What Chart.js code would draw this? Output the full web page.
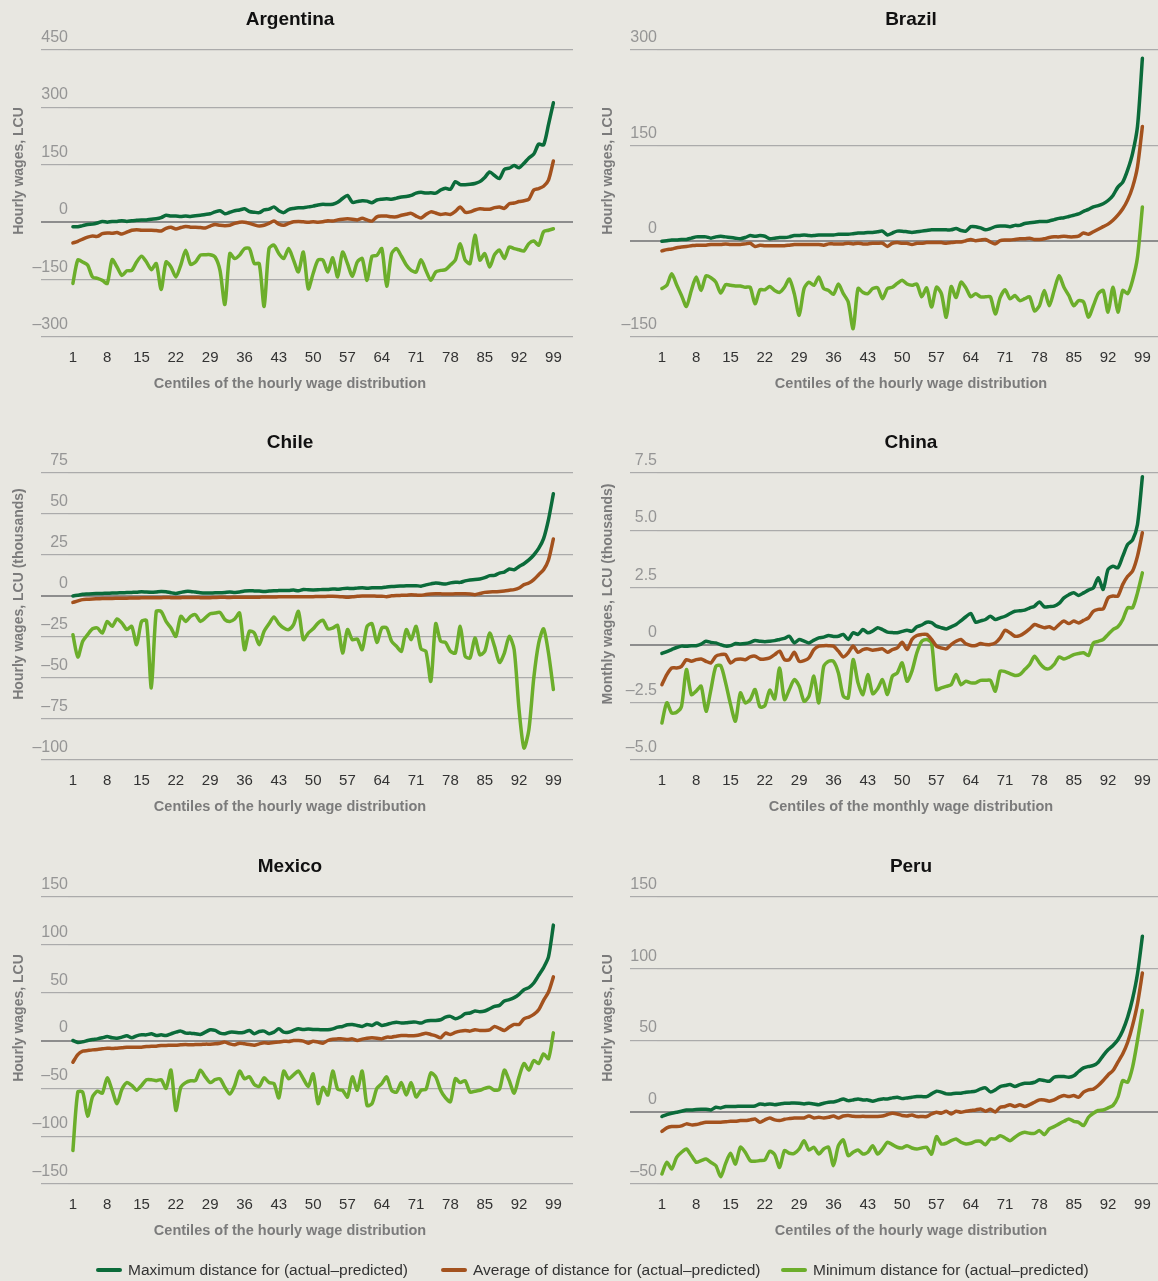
<!DOCTYPE html>
<html>
<head>
<meta charset="utf-8">
<script src="https://cdn.jsdelivr.net/npm/chart.js@4.4.1/dist/chart.umd.min.js"></script>
<style>
  html, body { margin: 0; padding: 0; background: #e8e7e1; overflow: hidden; }
  #page { position: relative; width: 1158px; height: 1281px; overflow: hidden; background: #e8e7e1; }
  #page canvas { position: absolute; }
  .legend-item { position: absolute; top: 1260px; font: 15.5px "Liberation Sans", Arial, sans-serif; color: #333; white-space: nowrap; line-height: 20px; }
  .legend-item i { display: inline-block; width: 26px; height: 4.5px; border-radius: 2px; margin-right: 6px; vertical-align: middle; position: relative; top: -1px; }
</style>
</head>
<body>
<div id="page">
  <canvas id="argentina" width="580" height="420" style="left:0;top:0"></canvas>
  <canvas id="brazil" width="644" height="420" style="left:589px;top:0"></canvas>
  <canvas id="chile" width="580" height="420" style="left:0;top:423px"></canvas>
  <canvas id="china" width="644" height="420" style="left:589px;top:423px"></canvas>
  <canvas id="mexico" width="580" height="420" style="left:0;top:847px"></canvas>
  <canvas id="peru" width="644" height="420" style="left:589px;top:847px"></canvas>
</div>
<script>
'use strict';

// Centiles and axis ticks
const centiles = [];
for (let c = 1; c <= 99; c++) centiles.push(c);
const xTicks = [1, 8, 15, 22, 29, 36, 43, 50, 57, 64, 71, 78, 85, 92, 99];

const seriesNames = ['Maximum distance for (actual\u2013predicted)', 'Average of distance for (actual\u2013predicted)', 'Minimum distance for (actual\u2013predicted)'];
const seriesColors = ['#0b6b3a', '#a3521e', '#6cae2b'];

// Argentina (hourly wages, LCU)
const argentinaYTicks = [-300, -150, 0, 150, 300, 450];
const argentinaMax = [-12, -12, -9, -6, -5, -2, 2, 0, 2, 2,
  4, 2, 4, 5, 6, 6, 8, 9, 12, 18,
  16, 16, 15, 16, 15, 17, 18, 20, 22, 27,
  30, 22, 26, 30, 32, 35, 28, 26, 25, 32,
  34, 40, 30, 25, 33, 36, 38, 38, 40, 42,
  45, 47, 46, 47, 52, 62, 70, 52, 54, 56,
  55, 51, 58, 60, 61, 60, 63, 66, 67, 70,
  76, 78, 76, 77, 76, 84, 89, 86, 106, 98,
  98, 99, 101, 106, 117, 131, 122, 114, 138, 141,
  148, 142, 154, 168, 178, 204, 202, 255, 312];
const argentinaAvg = [-54, -50, -44, -39, -36, -37, -30, -28, -29, -27,
  -31, -26, -21, -20, -21, -21, -21, -22, -23, -16,
  -13, -18, -14, -11, -13, -13, -14, -15, -10, -6,
  -8, -9, -8, -3, 0, 0, -3, -7, -10, -8,
  -3, 3, -5, -8, -3, 1, 2, 1, 0, 1,
  0, 1, 4, 3, 6, 8, 9, 8, 6, 10,
  6, 3, 14, 16, 16, 14, 14, 18, 21, 23,
  16, 11, 20, 27, 24, 20, 22, 20, 28, 40,
  26, 27, 32, 35, 34, 34, 38, 40, 36, 48,
  50, 54, 56, 60, 84, 88, 94, 110, 160];
const argentinaMin = [-160, -99, -104, -112, -143, -147, -152, -160, -98, -117,
  -139, -127, -126, -104, -89, -104, -124, -108, -176, -104,
  -117, -143, -112, -73, -110, -104, -86, -85, -85, -91,
  -126, -215, -82, -95, -86, -69, -69, -108, -108, -220,
  -69, -60, -82, -95, -69, -99, -130, -78, -174, -134,
  -99, -99, -130, -93, -143, -78, -108, -141, -104, -95,
  -152, -89, -87, -69, -167, -82, -69, -89, -112, -126,
  -130, -98, -126, -152, -130, -126, -124, -112, -99, -56,
  -99, -108, -34, -99, -82, -117, -85, -73, -95, -65,
  -69, -72, -75, -56, -49, -60, -25, -21, -17];

// Brazil (hourly wages, LCU)
const brazilYTicks = [-150, 0, 150, 300];
const brazilMax = [0, 1, 2, 2, 3, 3, 5, 7, 7, 7,
  5, 7, 8, 7, 6, 5, 4, 6, 9, 8,
  9, 8, 4, 5, 6, 6, 7, 9, 9, 10,
  9, 9, 10, 10, 10, 10, 11, 11, 11, 12,
  13, 13, 14, 14, 15, 16, 10, 13, 16, 16,
  15, 14, 15, 16, 17, 18, 18, 18, 18, 18,
  20, 17, 16, 23, 23, 21, 18, 20, 23, 24,
  24, 23, 25, 25, 28, 29, 30, 31, 31, 32,
  34, 36, 37, 39, 41, 43, 47, 50, 54, 56,
  59, 64, 72, 85, 93, 112, 138, 180, 287];
const brazilAvg = [-15, -13, -12, -10, -9, -8, -7, -6, -6, -6,
  -5, -5, -5, -4, -5, -5, -5, -4, -3, -8,
  -6, -7, -7, -7, -7, -7, -6, -5, -5, -5,
  -5, -5, -5, -6, -4, -4, -4, -4, -3, -4,
  -3, -4, -4, -3, -3, -3, -8, -3, -2, -3,
  -3, -5, -3, -3, -2, -2, -2, -2, -3, -2,
  -1, -1, 1, 3, 1, 2, 3, -1, -4, 1,
  2, 2, 3, 4, 4, 5, 3, 3, 4, 6,
  7, 7, 8, 7, 7, 8, 13, 11, 15, 19,
  23, 27, 33, 41, 51, 65, 85, 117, 180];
const brazilMin = [-74, -69, -51, -68, -85, -102, -77, -56, -77, -54,
  -57, -64, -81, -68, -69, -70, -70, -72, -72, -98,
  -76, -76, -71, -77, -80, -72, -59, -82, -116, -74,
  -64, -69, -56, -74, -77, -83, -67, -82, -95, -137,
  -74, -80, -82, -74, -73, -90, -74, -72, -66, -61,
  -67, -69, -67, -87, -73, -103, -72, -82, -119, -71,
  -88, -64, -73, -87, -82, -87, -87, -87, -114, -88,
  -76, -90, -85, -93, -90, -87, -109, -101, -77, -101,
  -77, -54, -72, -85, -101, -93, -95, -119, -101, -82,
  -77, -111, -72, -111, -77, -82, -61, -25, 54];

// Chile (hourly wages, LCU thousands)
const chileYTicks = [-100, -75, -50, -25, 0, 25, 50, 75];
const chileMax = [0, 0.5, 1, 1.2, 1.4, 1.5, 1.6, 1.7, 1.8, 1.9,
  2, 2.1, 2.2, 2.3, 2.6, 2.4, 2.3, 2.5, 2.8, 2.6,
  2, 1.6, 2.2, 2.8, 2.8, 2.4, 2, 1.8, 1.8, 2,
  2, 2.2, 2.5, 2.2, 2.4, 3, 3.2, 3.1, 3, 2.8,
  3, 3.2, 3.3, 3.4, 3.3, 3.6, 3.2, 4, 3.8, 3.7,
  3.8, 4, 4, 4.3, 4.1, 4.5, 4.7, 4.5, 4.8, 5,
  4.8, 5, 5.1, 5, 5.5, 5.8, 6, 6.1, 6.2, 6.3,
  6.3, 6, 6.8, 7.4, 8, 7.6, 7.3, 8, 8.4, 8.3,
  9.2, 9.8, 10, 10.4, 11.2, 12.4, 12.6, 14, 14.6, 16.5,
  16, 18, 19.7, 22, 25, 29, 35, 46.6, 62.4];
const chileAvg = [-3.9, -3, -2.2, -2, -1.8, -1.7, -1.6, -1.5, -1.5, -1.4,
  -1.3, -1.3, -1.2, -1.2, -1.1, -1.1, -1.1, -1, -1, -0.9,
  -1, -1.1, -1, -0.9, -0.9, -0.9, -1, -1.1, -1, -0.9,
  -0.8, -0.8, -0.9, -0.8, -0.7, -0.7, -0.8, -0.7, -0.7, -0.6,
  -0.6, -0.6, -0.5, -0.5, -0.4, -0.4, -0.5, -0.4, -0.4, -0.4,
  -0.3, -0.3, -0.2, -0.2, -0.3, -0.5, -0.8, -0.4, -0.2, 0,
  0, 0, -0.1, -0.1, -0.4, 0.1, 0.3, 0.4, 0.5, 0.8,
  0.6, 0.4, 0.9, 1.2, 1.4, 1.3, 1.2, 1.2, 1.3, 1.3,
  1.4, 1.2, 0.8, 1.5, 2.2, 2.5, 2.6, 2.8, 3.1, 3.5,
  3.9, 4.9, 6.9, 7.9, 10, 13, 16, 22, 34.8];
const chileMin = [-23.6, -37.2, -27.6, -23.6, -20, -19.5, -22.6, -15.5, -18.5, -14,
  -16.5, -20.5, -18.5, -29.7, -15.5, -15, -56, -9.4, -9.4, -15.5,
  -19.5, -24.6, -12.4, -15.5, -12.4, -11.4, -15.5, -13.4, -10.8, -10.4,
  -10, -14.4, -15.5, -14, -10.4, -32.7, -21.5, -22.6, -29.7, -21.5,
  -16.9, -12.8, -16.9, -19.5, -20.5, -17.5, -9.4, -26.6, -22.6, -20,
  -16.5, -14.8, -20, -19.5, -18, -34.8, -20.5, -26.6, -26.2, -32.7,
  -18.5, -16.9, -28.3, -19.5, -19.5, -27.6, -30.7, -33.7, -20.5, -26.6,
  -18.5, -32.3, -33.7, -52, -16.9, -27.6, -28.3, -33.7, -34.8, -18.5,
  -36.8, -37.8, -25.6, -35.8, -33.7, -22.6, -30.7, -40.5, -34.8, -24.6,
  -32.7, -69.3, -92.7, -81.5, -50, -28.7, -20, -34.8, -57];

// China (monthly wages, LCU thousands)
const chinaYTicks = [-5, -2.5, 0, 2.5, 5, 7.5];
const chinaMax = [-0.36, -0.28, -0.19, -0.1, -0.04, -0.05, -0.02, -0.02, 0.05, 0.17,
  0.12, 0.1, 0.02, -0.04, -0.02, 0.07, 0.05, 0.07, 0.12, 0.2,
  0.17, 0.15, 0.17, 0.2, 0.25, 0.3, 0.39, 0.1, 0.25, 0.18,
  0.1, 0.22, 0.32, 0.35, 0.42, 0.38, 0.39, 0.47, 0.25, 0.54,
  0.47, 0.68, 0.54, 0.62, 0.76, 0.68, 0.57, 0.55, 0.54, 0.6,
  0.65, 0.61, 0.8, 0.88, 1.0, 0.98, 0.83, 0.76, 0.71, 0.8,
  0.9, 1.07, 1.24, 1.38, 1.0, 1.06, 1.12, 1.26, 1.12, 1.19,
  1.26, 1.38, 1.48, 1.5, 1.53, 1.62, 1.7, 1.88, 1.67, 1.68,
  1.7, 1.82, 2.06, 2.2, 2.28, 2.17, 2.28, 2.4, 2.5, 2.94,
  2.43, 3.3, 3.44, 3.37, 3.88, 4.39, 4.58, 5.26, 7.34];
const chinaAvg = [-1.72, -1.28, -0.99, -0.99, -0.92, -0.63, -0.7, -0.63, -0.6, -0.7,
  -0.77, -0.48, -0.41, -0.41, -0.77, -0.63, -0.6, -0.63, -0.51, -0.48,
  -0.6, -0.6, -0.55, -0.41, -0.26, -0.63, -0.63, -0.31, -0.7, -0.67,
  -0.55, -0.19, -0.04, -0.02, -0.02, -0.04, -0.26, -0.51, -0.33, -0.04,
  -0.31, -0.19, -0.16, -0.22, -0.19, -0.16, -0.31, -0.19, -0.12, 0.13,
  -0.19, 0.25, 0.42, 0.47, 0.47, 0.25, -0.04, -0.12, -0.16, 0.03,
  0.17, 0.25, 0.06, -0.01, -0.01, 0.07, 0.03, 0.03, 0.1, 0.32,
  0.65, 0.54, 0.39, 0.42, 0.54, 0.71, 0.9, 0.83, 0.76, 0.8,
  0.71, 0.9, 1.05, 0.94, 1.05, 0.97, 1.08, 1.19, 1.48, 1.56,
  1.58, 2.06, 2.14, 2.14, 2.65, 3.0, 3.23, 3.88, 4.9];
const chinaMin = [-3.39, -2.51, -2.95, -2.92, -2.66, -1.06, -2.15, -2.0, -1.79, -2.88,
  -1.93, -0.92, -0.89, -1.64, -2.58, -3.31, -2.08, -2.51, -2.37, -1.93,
  -2.69, -2.63, -1.96, -2.34, -0.99, -2.37, -1.93, -1.5, -1.79, -2.44,
  -2.22, -1.35, -2.51, -0.92, -0.7, -0.7, -1.21, -2.22, -2.3, -0.63,
  -1.64, -2.15, -1.28, -2.11, -1.9, -1.5, -2.15, -1.35, -1.21, -0.77,
  -1.57, -1.13, -0.33, 0.17, 0.25, 0.1, -1.93, -1.86, -1.79, -1.72,
  -1.28, -1.72, -1.57, -1.64, -1.64, -1.53, -1.53, -1.53, -2.0, -1.13,
  -1.15, -1.24, -1.32, -1.28, -1.06, -0.84, -0.48, -0.77, -0.99, -1.02,
  -0.84, -0.51, -0.6, -0.52, -0.41, -0.36, -0.33, -0.45, 0.1, 0.17,
  0.25, 0.47, 0.68, 0.8, 1.12, 1.63, 1.63, 2.28, 3.15];

// Mexico (hourly wages, LCU)
const mexicoYTicks = [-150, -100, -50, 0, 50, 100, 150];
const mexicoMax = [0, -2, -1.4, 0, 1, 1.7, 2.8, 4.2, 2.8, 2.4,
  3.5, 4.9, 2.8, 4.9, 5.9, 5.9, 7, 5.2, 5.9, 5.2,
  7, 8.7, 9.8, 7.7, 7.7, 7, 6.3, 8.7, 11.2, 10.5,
  7.7, 7, 8.7, 8.7, 8, 8.7, 10.5, 7, 9.4, 9.8,
  7, 8.7, 12.2, 8.7, 8.7, 10.5, 12.2, 11.5, 11.9, 11.5,
  11.5, 11.2, 11.2, 12.2, 14, 14.7, 16.4, 16.8, 15.7, 14.7,
  16.8, 15.7, 18.2, 15.7, 16.8, 18.2, 19.2, 18.2, 18.5, 19.2,
  19.2, 18.2, 20.3, 21, 21, 21.7, 24.5, 25.2, 22.7, 24.5,
  28, 28.7, 30.8, 30.1, 30.8, 33.2, 35.7, 36.7, 41.3, 42.7,
  44.8, 48.3, 53.1, 55.3, 60.1, 68.2, 76.2, 87.4, 120.6];
const mexicoAvg = [-22.7, -14.7, -11.2, -10.5, -9.8, -9.4, -8.7, -8, -8.4, -8,
  -7.7, -7, -7, -7, -7, -6.3, -5.9, -5.9, -5.2, -5.2,
  -4.9, -4.9, -4.5, -4.2, -4.5, -4.2, -4.2, -3.8, -3.8, -3.5,
  -2.8, -1.7, -3.5, -4.5, -2.8, -3.5, -4.2, -4.9, -3.5, -2.4,
  -2.8, -2.1, -1.7, -0.7, -1, 0, 0, -0.7, -2.8, -0.7,
  -1.7, -2.8, 0, 1.4, 1.7, 1.7, 1, 1.7, 0, 1.4,
  2.4, 2.8, 2.4, 1.7, 3.5, 3.5, 4.5, 5.2, 5.2, 4.9,
  5.2, 6.3, 7.7, 6.3, 4.9, 2.8, 7.7, 6.3, 8.4, 9.8,
  10.5, 9.8, 11.2, 10.5, 10.5, 11.2, 14.7, 12.6, 10.5, 14,
  16.8, 16.8, 22.7, 24.5, 27.3, 32.2, 42, 50.7, 66.5];
const mexicoMin = [-115, -54, -54, -79, -59, -53, -55, -39, -52, -66,
  -51, -44, -47, -52, -47, -41, -41, -42, -41, -50,
  -31, -73, -49, -44, -42, -42, -31, -38, -44, -41,
  -40, -49, -56, -47, -32, -40, -38, -46, -48, -39,
  -44, -45, -60, -32, -40, -36, -32, -40, -48, -35,
  -66, -49, -57, -32, -51, -52, -59, -38, -52, -32,
  -68, -66, -50, -45, -38, -52, -54, -44, -57, -44,
  -59, -52, -51, -34, -38, -52, -60, -64, -40, -44,
  -42, -54, -53, -52, -50, -49, -52, -51, -31, -42,
  -55, -38, -24, -31, -21, -24, -14, -19, 8];

// Peru (hourly wages, LCU)
const peruYTicks = [-50, 0, 50, 100, 150];
const peruMax = [-3, -1.6, -0.7, 0, 0.7, 1.6, 1.6, 1.9, 2.1, 2.1,
  1.6, 3.5, 3, 4, 4, 4, 4.2, 4.2, 4.2, 4.4,
  5.8, 5.3, 5.8, 5.3, 5.8, 6.3, 6.3, 6.5, 6.3, 5.8,
  6.3, 5.8, 5.3, 6.3, 7, 7.2, 8.1, 9.3, 8.1, 8.6,
  9.3, 8.6, 8.6, 7.7, 8.6, 9.3, 9.3, 10, 10.5, 9.5,
  10, 10.5, 10.9, 10.9, 10.9, 12.8, 14.7, 14, 12.8, 12.8,
  13.3, 13.3, 14, 14.2, 14.7, 16.3, 17, 14.2, 15.6, 17.9,
  18.6, 19.3, 17.9, 19.3, 20.2, 20.2, 20.9, 22.6, 22.1, 21.6,
  24.4, 24.9, 24.9, 24.4, 25.4, 28.4, 30.9, 31.9, 32.6, 34.9,
  39.5, 43.5, 46.5, 50.5, 57, 66.3, 79.1, 96.5, 122.6];
const peruAvg = [-13.3, -10.9, -10, -10, -9.5, -8.1, -8.8, -8.6, -7.7, -7,
  -7, -7, -7, -6.7, -6.3, -6.3, -5.8, -5.8, -5.3, -4.7,
  -7, -5.3, -4, -5.3, -5.8, -4.9, -4.4, -4, -4, -4,
  -2.6, -4, -3.5, -4, -3.5, -2.6, -4, -2.6, -2.3, -2.8,
  -3, -2.8, -3, -3, -3, -2.6, -1.6, -0.7, -1.2, -2.3,
  -2.6, -1.9, -3, -3, -3, -1.2, 0, -0.7, 0.7, -1.2,
  0.7, 0, 0.7, 1.2, 1.6, 2.3, 0.7, 2.1, 0.2, 3.5,
  4, 5.3, 4, 5.3, 4, 5.3, 7, 8.6, 8.6, 7.7,
  8.6, 10.5, 11.6, 10.9, 11.6, 10.5, 14, 15.6, 16.1, 18.6,
  22.1, 26, 29.1, 34.9, 40.7, 48.8, 60.5, 75.6, 97];
const peruMin = [-43, -34.9, -39.5, -31.4, -27.9, -25.6, -30.2, -34.9, -33.7, -32.6,
  -34.9, -37.2, -44.9, -35.6, -28.6, -36.1, -24.4, -27.9, -33.7, -34.2,
  -33.7, -33.3, -27.2, -29.5, -38.4, -26.7, -28.6, -28.6, -25.6, -19.8,
  -26.3, -24.4, -29.1, -25.6, -24.4, -37.2, -23.3, -19.3, -30.2, -27.9,
  -26.3, -29.1, -27.9, -23.3, -29.1, -25.6, -20.9, -22.6, -24.4, -24.9,
  -23.3, -24.9, -25.6, -24.9, -24.4, -29.1, -17, -22.1, -21.6, -19.8,
  -18.6, -20.9, -22.1, -21.6, -20.2, -20.2, -22.6, -18.6, -18.6, -16.3,
  -17.9, -19.8, -17.4, -15.1, -14, -14.7, -14.7, -12.8, -15.6, -11.6,
  -10, -8.1, -6.3, -4.7, -6.3, -7, -9.3, -3.5, -0.7, 1.2,
  1.6, 3, 4.7, 10.5, 22.1, 20.9, 31.4, 50, 70.9];

Chart.defaults.font.family = '"Liberation Sans", Arial, sans-serif';

function formatTick(v, decimals) {
    if (v === 0) return '0';
    const s = Math.abs(v).toFixed(decimals);
    return (v < 0 ? '\u2013' : '') + s;
}

// Draws the rotated y-axis title a bit above the axis centre, as in the original.
const yTitlePlugin = {
    id: 'yTitle',
    afterDraw(chart, args, opts) {
        const ctx = chart.ctx;
        ctx.save();
        ctx.translate(19.5, 171);
        ctx.rotate(-Math.PI / 2);
        ctx.font = 'bold 14px "Liberation Sans", Arial, sans-serif';
        ctx.fillStyle = '#7b7b7b';
        ctx.textAlign = 'center';
        ctx.textBaseline = 'middle';
        ctx.fillText(opts.text, 0, 0);
        ctx.restore();
    }
};

const PX_PER_CENTILE = 505 / 103;

function makePanel(id, country, yTitle, xTitle, yTicks, decimals, maxData, avgData, minData) {
    const canvas = document.getElementById(id);
    // left column keeps its grid inside the canvas; right column runs off the page edge
    const rightColumn = canvas.width > 600;
    const padL = rightColumn ? 0 : 7;
    const padR = rightColumn ? 0 : 7;
    const xMax = (canvas.width - padR - 68) / PX_PER_CENTILE;
    const seriesData = [maxData, avgData, minData];
    new Chart(canvas, {
        type: 'line',
        data: {
            labels: centiles,
            datasets: seriesData.map((d, i) => ({
                label: seriesNames[i],
                data: d,
                borderColor: seriesColors[i],
                borderWidth: 3.5,
                pointRadius: 0,
                tension: 0.25,
                borderJoinStyle: 'round',
                borderCapStyle: 'round',
                fill: false,
            })),
        },
        options: {
            responsive: false,
            devicePixelRatio: 1,
            animation: false,
            layout: { padding: { left: padL, right: padR, top: 0, bottom: 0 } },
            plugins: {
                legend: { display: false },
                tooltip: { enabled: false },
                title: {
                    display: true,
                    text: country,
                    color: '#111',
                    font: { size: 19, weight: 'bold' },
                    padding: { top: 8.6, bottom: 18.6 },
                },
                subtitle: {
                    display: true,
                    position: 'bottom',
                    text: xTitle,
                    color: '#7b7b7b',
                    font: { size: 14.5, weight: 'bold' },
                    padding: { top: 8.6, bottom: 27 },
                },
                yTitle: { text: yTitle },
            },
            scales: {
                x: {
                    type: 'linear',
                    min: 0,
                    max: xMax,
                    afterBuildTicks: s => { s.ticks = xTicks.map(v => ({ value: v })); },
                    afterFit: s => { s.height = 30; },
                    grid: { display: false, drawTicks: false },
                    border: { display: false },
                    ticks: {
                        autoSkip: false,
                        maxRotation: 0,
                        padding: 12,
                        color: '#333',
                        font: { size: 15 },
                        callback: v => String(v),
                    },
                },
                y: {
                    min: yTicks[0],
                    max: yTicks[yTicks.length - 1],
                    afterBuildTicks: s => { s.ticks = yTicks.map(v => ({ value: v })); },
                    afterFit: s => { s.width = 68 - padL; },
                    grid: {
                        color: c => (c.tick && c.tick.value === 0) ? '#8d8d8d' : '#ababab',
                        lineWidth: c => (c.tick && c.tick.value === 0) ? 2 : 1.2,
                        drawTicks: true,
                        tickLength: 27,
                    },
                    border: { display: false },
                    ticks: {
                        padding: -27,
                        labelOffset: -12.5,
                        color: '#959595',
                        font: { size: 16 },
                        callback: v => formatTick(v, decimals),
                    },
                },
            },
        },
        plugins: [yTitlePlugin],
    });
}

makePanel('argentina', 'Argentina', 'Hourly wages, LCU', 'Centiles of the hourly wage distribution', argentinaYTicks, 0, argentinaMax, argentinaAvg, argentinaMin);
makePanel('brazil', 'Brazil', 'Hourly wages, LCU', 'Centiles of the hourly wage distribution', brazilYTicks, 0, brazilMax, brazilAvg, brazilMin);
makePanel('chile', 'Chile', 'Hourly wages, LCU (thousands)', 'Centiles of the hourly wage distribution', chileYTicks, 0, chileMax, chileAvg, chileMin);
makePanel('china', 'China', 'Monthly wages, LCU (thousands)', 'Centiles of the monthly wage distribution', chinaYTicks, 1, chinaMax, chinaAvg, chinaMin);
makePanel('mexico', 'Mexico', 'Hourly wages, LCU', 'Centiles of the hourly wage distribution', mexicoYTicks, 0, mexicoMax, mexicoAvg, mexicoMin);
makePanel('peru', 'Peru', 'Hourly wages, LCU', 'Centiles of the hourly wage distribution', peruYTicks, 0, peruMax, peruAvg, peruMin);

// Shared legend under the panels
const legendLeft = [96, 441, 781];
const page = document.getElementById('page');
seriesNames.forEach((name, i) => {
    const item = document.createElement('div');
    item.className = 'legend-item';
    item.style.left = legendLeft[i] + 'px';
    const sw = document.createElement('i');
    sw.style.background = seriesColors[i];
    item.appendChild(sw);
    item.appendChild(document.createTextNode(name));
    page.appendChild(item);
});
</script>
</body>
</html>
